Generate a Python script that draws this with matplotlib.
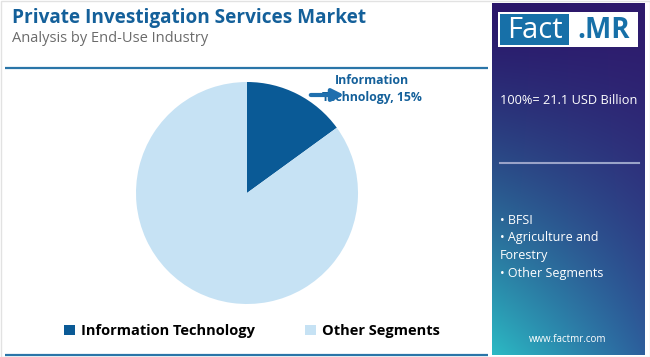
import matplotlib
matplotlib.use("Agg")
import matplotlib.pyplot as plt
import numpy as np
from matplotlib.patches import Rectangle
from matplotlib.colors import to_rgb

# ---- data ----
categories = ["Information Technology", "Other Segments"]
shares = [15, 85]
colors = ["#0a5a96", "#c6e2f4"]
title = "Private Investigation Services Market"
subtitle = "Analysis by End-Use Industry"
total_text = "100%= 21.1 USD Billion"
side_items = ["• BFSI", "• Agriculture and", "Forestry", "• Other Segments"]

W, H = 650, 357
fig = plt.figure(figsize=(W / 100, H / 100), dpi=100)
FONT = "Open Sans"

# background overlay axes in pixel coordinates
ax0 = fig.add_axes([0, 0, 1, 1])
ax0.set_xlim(0, W)
ax0.set_ylim(H, 0)
ax0.axis("off")

# border
ax0.add_patch(Rectangle((0.5, 0.5), W - 1, H - 1, fill=False, ec="#e2e2e2", lw=1))

# title / subtitle
ax0.text(12, 18, title, fontsize=13.7, fontweight="bold", color="#14609a",
         family=FONT, va="center", ha="left")
ax0.text(12, 38, subtitle, fontsize=10.5, color="#6b6b6b", family=FONT,
         va="center", ha="left")

# rules
ax0.plot([5, 488], [68, 68], color="#2a75a8", lw=1.6, solid_capstyle="butt")
ax0.plot([5, 488], [355, 355], color="#2a75a8", lw=1.6, solid_capstyle="butt")

# sidebar gradient
sx0, sx1, sy0, sy1 = 492, 645, 3, 355
ny, nx = 200, 80
yy, xx = np.mgrid[0:1:ny * 1j, 0:1:nx * 1j]
TL = np.array(to_rgb("#2a166a"))
TR = np.array(to_rgb("#2e1a6c"))
BL = np.array(to_rgb("#2bbac4"))
BR = np.array(to_rgb("#2d5f9c"))
t = yy ** 1.4
img = ((1 - t)[..., None] * ((1 - xx)[..., None] * TL + xx[..., None] * TR)
       + t[..., None] * ((1 - xx)[..., None] * BL + xx[..., None] * BR))
ax0.imshow(img, extent=(sx0, sx1, sy1, sy0), aspect="auto", zorder=1,
           interpolation="bilinear")
ax0.set_xlim(0, W)
ax0.set_ylim(H, 0)

# logo
ax0.add_patch(Rectangle((498, 12), 140, 35, fc="white", ec="none", zorder=2))
ax0.add_patch(Rectangle((500, 14), 69, 31, fc="#1770a8", ec="none", zorder=3))
ax0.text(534.5, 30, "Fact", fontsize=21, color="white", family=FONT,
         ha="center", va="center", zorder=4)
ax0.text(604, 30, ".MR", fontsize=20, color="#1770a8", family=FONT,
         fontweight="bold", ha="center", va="center", zorder=4)

ax0.text(500, 101, total_text, fontsize=9.2, color="white", family=FONT,
         ha="left", va="center", zorder=4)
ax0.plot([500, 639], [163, 163], color="#9aa3c8", lw=1.5, zorder=4)
for i, s in enumerate(side_items):
    ax0.text(500, 220 + 18 * i, s, fontsize=9, color="white", family=FONT,
             ha="left", va="center", zorder=4)
ax0.text(568, 340, "www.factmr.com", fontsize=7, color="white", family=FONT,
         ha="center", va="center", zorder=4)

# annotation
ax0.text(372, 89, "Information\nTechnology, 15%", fontsize=8.8, fontweight="bold",
         color="#14609a", family=FONT, ha="center", va="center",
         linespacing=1.35, zorder=4)
ax0.annotate("", xy=(347, 95), xytext=(308, 95),
             arrowprops=dict(arrowstyle="-|>,head_width=0.35,head_length=0.7",
                             color="#1f6fae", lw=3), zorder=5)

# pie
cx, cy, r = 247, 193, 111
axp = fig.add_axes([(cx - r) / W, (H - cy - r) / H, 2 * r / W, 2 * r / H])
wedges, _ = axp.pie(shares, colors=colors, startangle=90, counterclock=False,
                    radius=1, wedgeprops=dict(linewidth=0))
axp.set_xlim(-1, 1)
axp.set_ylim(-1, 1)
axp.axis("off")

leg = fig.legend(wedges, categories, loc="center", ncol=2,
                 bbox_to_anchor=(252 / W, 1 - 331 / H), frameon=False,
                 handlelength=0.75, handleheight=0.75, handletextpad=0.4,
                 columnspacing=3.4, prop=dict(family=FONT, weight="bold", size=10.5))

fig.savefig("out.png", dpi=100)
